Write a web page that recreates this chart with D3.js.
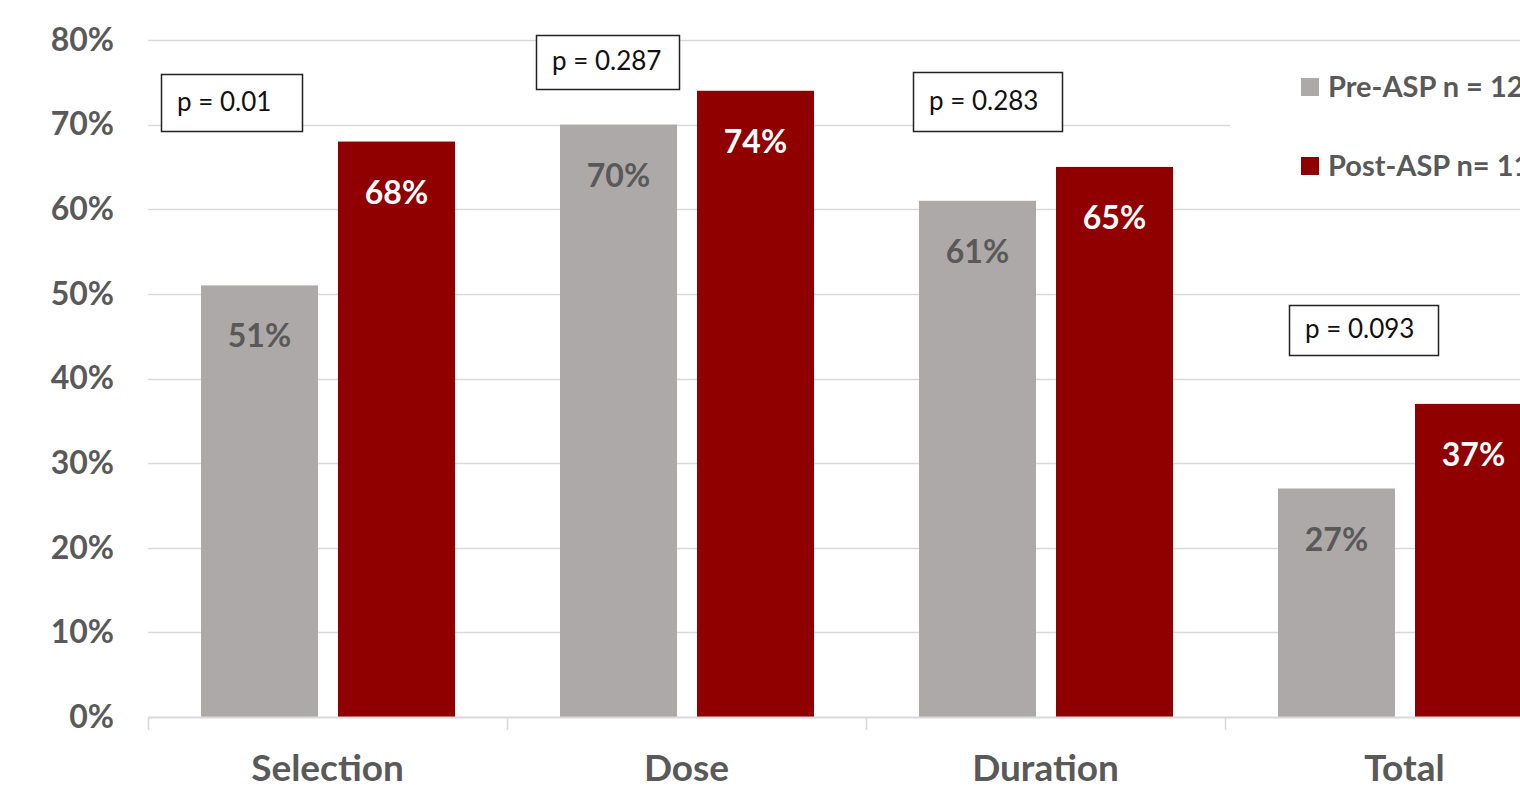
<!DOCTYPE html>
<html>
<head>
<meta charset="utf-8">
<style>
  body { margin: 0; background: #fff; overflow: hidden; }
  svg { display: block; font-family: Lato, "Open Sans", sans-serif; }
</style>
</head>
<body>
<svg width="1520" height="790"></svg>
<script src="https://cdn.jsdelivr.net/npm/d3@7"></script>
<script>
var categories = ["Selection", "Dose", "Duration", "Total"];
var preASP  = [51, 70, 61, 27];
var postASP = [68, 74, 65, 37];
var pValues = ["p = 0.01", "p = 0.287", "p = 0.283", "p = 0.093"];
var yTicks  = [0, 10, 20, 30, 40, 50, 60, 70, 80];
var seriesNames = ["Pre-ASP n = 12", "Post-ASP n= 11"];

var grey = "#ada9a8", red = "#900000", labelGrey = "#595959";

var svg = d3.select("svg");

// plot runs past the right edge of the page, like the source picture
var x = d3.scaleBand()
    .domain(categories)
    .range([148, 1584])
    .padding(0);

var inner = d3.scaleBand()
    .domain(["pre", "post"])
    .range([53, 307])
    .paddingInner(0.146);

var y = d3.scaleLinear()
    .domain([0, 80])
    .range([717, 40]);

// gridlines
svg.append("g")
  .selectAll("line")
  .data(yTicks.slice(1))
  .enter().append("line")
    .attr("x1", 148)
    .attr("x2", 1520)
    .attr("y1", function(d) { return Math.round(y(d)) + 0.5; })
    .attr("y2", function(d) { return Math.round(y(d)) + 0.5; })
    .attr("stroke", "#d9d9d9")
    .attr("stroke-width", 1.5);

// y axis labels
var yAxis = svg.append("g")
    .attr("transform", "translate(148,0)")
    .call(d3.axisLeft(y).tickValues(yTicks).tickSize(0).tickPadding(34)
      .tickFormat(function(d) { return d + "%"; }));
yAxis.select(".domain").remove();
yAxis.selectAll("text")
    .attr("font-family", "Lato, sans-serif")
    .attr("font-size", 32)
    .attr("font-weight", "bold")
    .attr("fill", labelGrey);

// bars
var groups = svg.append("g")
  .selectAll("g")
  .data(categories)
  .enter().append("g")
    .attr("transform", function(d) { return "translate(" + x(d) + ",0)"; });

function drawSeries(key, values, fill, txtColor) {
  groups.append("rect")
      .attr("x", inner(key))
      .attr("width", inner.bandwidth())
      .attr("y", function(d, i) { return y(values[i]); })
      .attr("height", function(d, i) { return y(0) - y(values[i]); })
      .attr("fill", fill);

  groups.append("text")
      .attr("x", inner(key) + inner.bandwidth() / 2)
      .attr("y", function(d, i) { return y(values[i]) + 62; })
      .attr("text-anchor", "middle")
      .attr("font-size", 32)
      .attr("font-weight", "bold")
      .attr("fill", txtColor)
      .text(function(d, i) { return values[i] + "%"; });
}
drawSeries("pre", preASP, grey, labelGrey);
drawSeries("post", postASP, red, "#fff");

// x axis line + ticks
var xAxis = svg.append("g")
    .attr("transform", "translate(0," + y(0) + ")")
    .call(d3.axisBottom(x).tickSize(0).tickPadding(38));
xAxis.select(".domain")
    .attr("stroke", "#d9d9d9")
    .attr("stroke-width", 2);
xAxis.selectAll("text")
    .attr("font-family", "Lato, sans-serif")
    .attr("font-size", 37)
    .attr("font-weight", "bold")
    .attr("fill", labelGrey);

svg.append("g")
  .selectAll("line")
  .data(categories)
  .enter().append("line")
    .attr("x1", function(d) { return x(d) + 0.5; })
    .attr("x2", function(d) { return x(d) + 0.5; })
    .attr("y1", y(0))
    .attr("y2", y(0) + 13)
    .attr("stroke", "#d9d9d9")
    .attr("stroke-width", 1.5);

// p-value boxes (hand placed in the source)
var pBoxes = [
  { dx: 13, top: 74, w: 141, h: 57 },
  { dx: 29, top: 35, w: 143, h: 54 },
  { dx: 47, top: 72, w: 149, h: 59 },
  { dx: 64, top: 305, w: 149, h: 50 }
];
var pb = svg.append("g")
  .selectAll("g")
  .data(categories)
  .enter().append("g")
    .attr("transform", function(d, i) {
      return "translate(" + (x(d) + pBoxes[i].dx) + "," + pBoxes[i].top + ")";
    });
pb.append("rect")
    .attr("x", 0.5).attr("y", 0.5)
    .attr("width", function(d, i) { return pBoxes[i].w; })
    .attr("height", function(d, i) { return pBoxes[i].h; })
    .attr("fill", "#fff")
    .attr("stroke", "#222")
    .attr("stroke-width", 1.5);
pb.append("text")
    .attr("x", 16)
    .attr("y", function(d, i) { return pBoxes[i].h / 2 + 8; })
    .attr("font-size", 26)
    .attr("fill", "#111")
    .text(function(d, i) { return pValues[i]; });

// legend
var legend = svg.append("g").attr("transform", "translate(1230,60)");
legend.append("rect")
    .attr("width", 300).attr("height", 130)
    .attr("fill", "#fff");
var li = legend.selectAll("g")
  .data(seriesNames)
  .enter().append("g")
    .attr("transform", function(d, i) { return "translate(71," + (18 + i * 79) + ")"; });
li.append("rect")
    .attr("width", 18).attr("height", 18)
    .attr("fill", function(d, i) { return i ? red : grey; });
li.append("text")
    .attr("x", 27)
    .attr("y", 19)
    .attr("font-size", 29)
    .attr("font-weight", "bold")
    .attr("fill", labelGrey)
    .text(function(d) { return d; });
</script>
</body>
</html>
